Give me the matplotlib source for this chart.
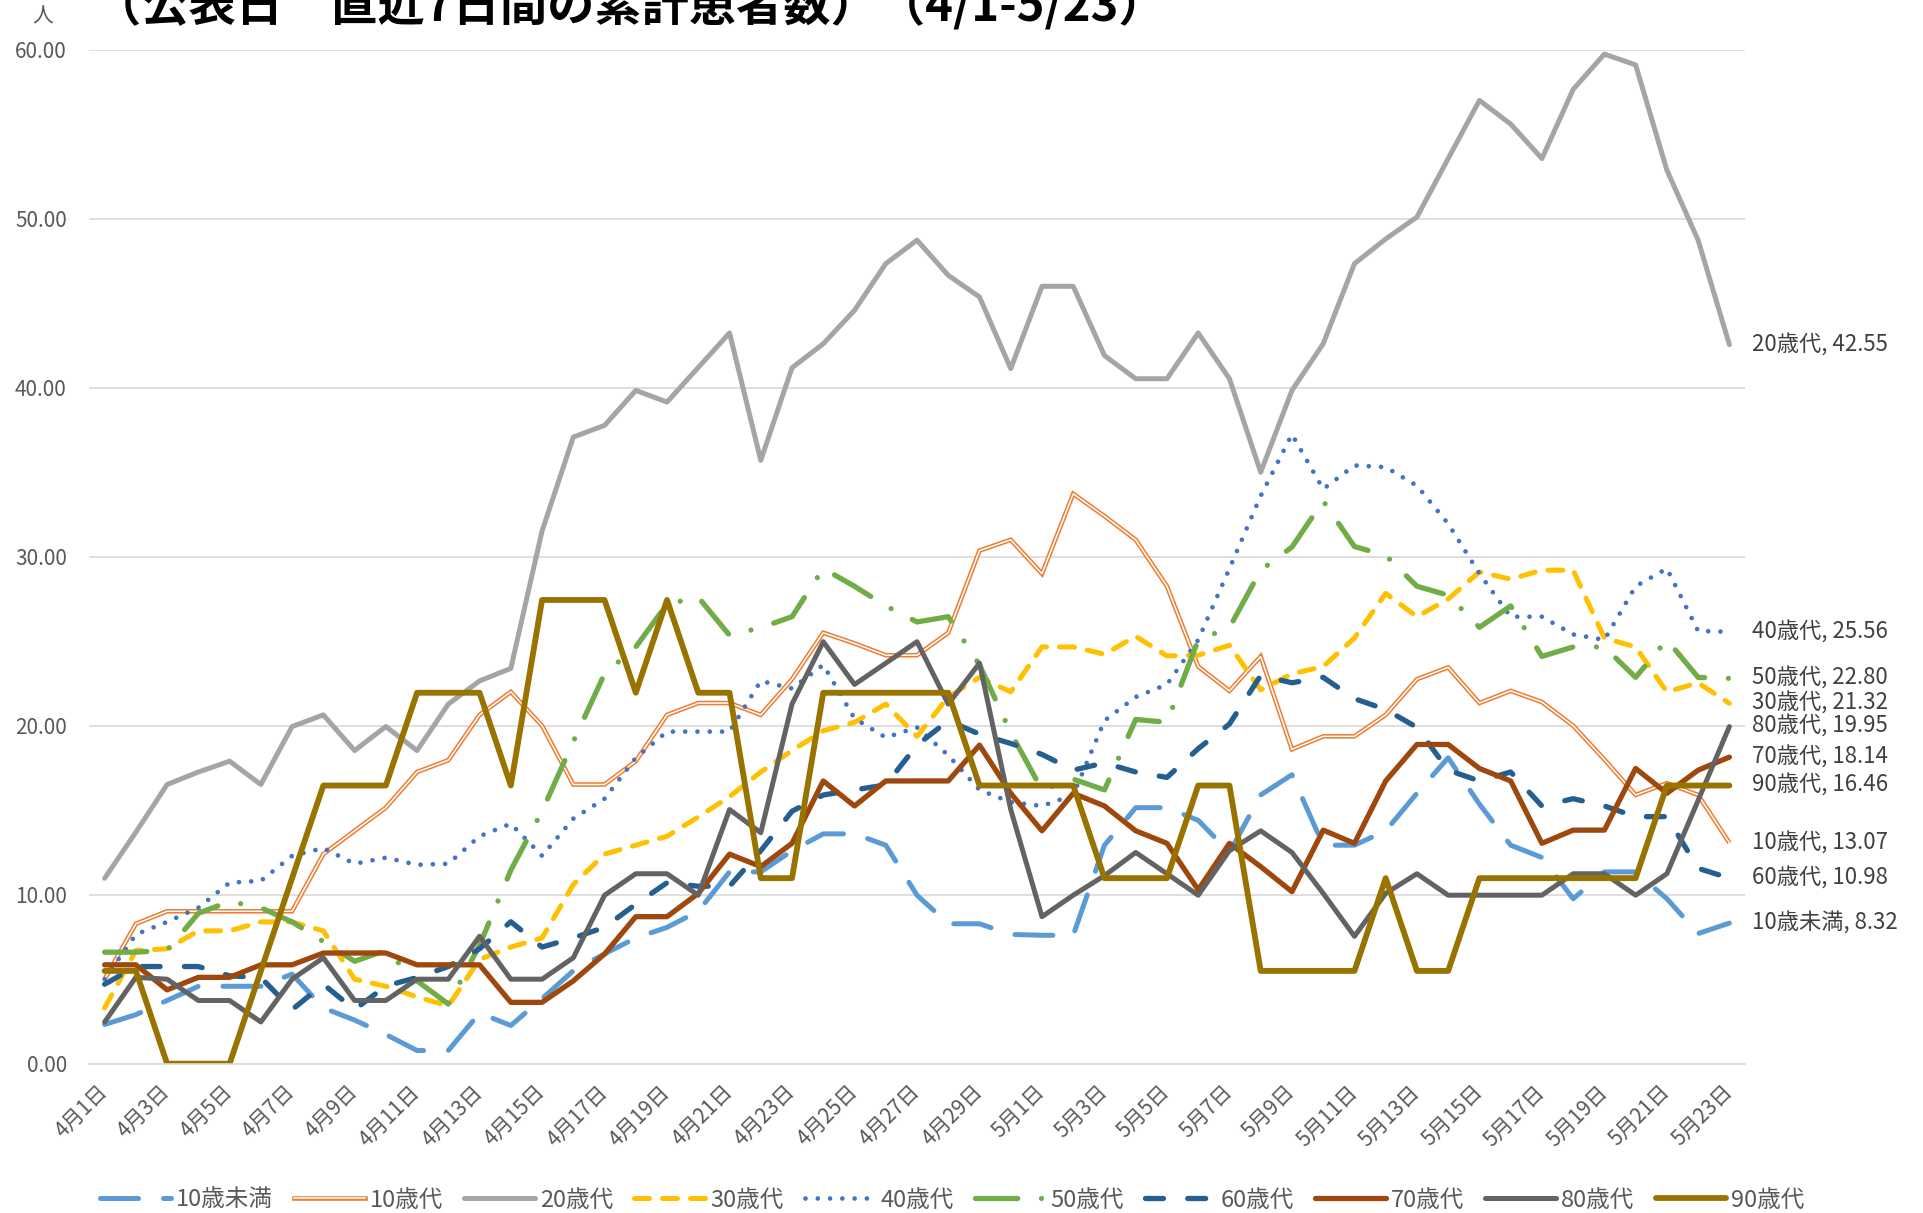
import matplotlib
matplotlib.use('Agg')
import matplotlib.pyplot as plt
from matplotlib.lines import Line2D
from matplotlib.ticker import FormatStrFormatter
import numpy as np

plt.rcParams['font.family'] = ['Noto Sans CJK JP', 'DejaVu Sans']

# ---------------- data ----------------
dates = [f"4月{d}日" for d in range(1, 31)] + [f"5月{d}日" for d in range(1, 24)]

names = ["10歳未満", "10歳代", "20歳代", "30歳代", "40歳代",
         "50歳代", "60歳代", "70歳代", "80歳代", "90歳代"]

v_u10 = [2.32, 2.9, 3.74, 4.58, 4.58, 4.58, 5.3, 3.3, 2.58, 1.73, 0.78, 0.78, 3.0, 2.26, 3.85,
         5.5, 6.5, 7.44, 8.07, 9.02, 11.35, 11.35, 12.6, 13.6, 13.6, 12.93, 9.97, 8.28, 8.28, 7.65,
         7.6, 7.6, 12.93, 15.15, 15.15, 14.4, 12.5, 15.9, 17.1, 12.93, 12.93, 13.78, 16.0, 18.1,
         15.36, 12.93, 12.2, 9.76, 11.35, 11.35, 9.76, 7.7, 8.32]
v_10s = [5.0, 8.28, 9.02, 9.02, 9.02, 9.02, 9.02, 12.4, 13.78, 15.15, 17.26, 17.96, 20.64, 22.0, 20.0,
         16.52, 16.52, 17.9, 20.64, 21.34, 21.34, 20.64, 22.75, 25.5, 24.87, 24.17, 24.17, 25.5, 30.36,
         31.0, 28.99, 33.72, 32.4, 31.0, 28.25, 23.5, 22.06, 24.1, 18.6, 19.37, 19.37, 20.64, 22.75,
         23.45, 21.34, 22.06, 21.4, 20.0, 18.0, 15.9, 16.6, 15.9, 13.07]
v_20s = [10.97, 13.7, 16.52, 17.26, 17.9, 16.52, 19.95, 20.64, 18.53, 19.95, 18.53, 21.28, 22.65, 23.39,
         31.52, 37.08, 37.77, 39.84, 39.15, 41.2, 43.24, 35.7, 41.18, 42.6, 44.58, 47.34, 48.73, 46.65,
         45.37, 41.13, 46.0, 46.0, 41.9, 40.53, 40.53, 43.24, 40.53, 35.0, 39.84, 42.6, 47.34, 48.8,
         50.1, 53.56, 57.0, 55.6, 53.56, 57.65, 59.74, 59.1, 52.87, 48.73, 42.55]
v_30s = [3.3, 6.7, 6.8, 7.86, 7.86, 8.39, 8.39, 7.86, 5.0, 4.58, 3.95, 3.42, 6.17, 6.9, 7.44, 10.6,
         12.4, 12.93, 13.46, 14.6, 15.8, 17.26, 18.53, 19.7, 20.2, 21.28, 19.37, 21.7, 22.86, 22.0,
         24.66, 24.66, 24.23, 25.29, 24.13, 24.17, 24.76, 22.12, 23.07, 23.5, 25.19, 27.83, 26.45,
         27.5, 29.1, 28.67, 29.2, 29.2, 25.19, 24.66, 22.0, 22.54, 21.32]
v_40s = [5.0, 7.65, 8.39, 9.23, 10.71, 10.82, 12.3, 12.76, 11.83, 12.19, 11.77, 11.83, 13.46, 14.2,
         12.3, 14.5, 15.68, 18.1, 19.65, 19.65, 19.65, 22.65, 22.2, 23.6, 20.43, 19.3, 19.9, 18.25,
         16.2, 15.47, 15.25, 15.9, 20.3, 21.7, 22.44, 25.08, 29.3, 33.6, 37.24, 34.0, 35.4, 35.3,
         34.2, 31.95, 29.0, 26.45, 26.45, 25.4, 25.08, 28.25, 29.3, 25.6, 25.56]
v_50s = [6.6, 6.6, 6.7, 8.9, 9.6, 9.23, 8.39, 7.23, 6.06, 6.7, 4.9, 3.53, 7.0, 11.45, 14.94, 19.06,
         23.07, 24.66, 27.2, 27.6, 25.35, 25.8, 26.45, 29.3, 28.25, 27.09, 26.14, 26.45, 23.6, 19.59,
         16.2, 16.84, 16.2, 20.37, 20.2, 25.08, 25.8, 29.2, 30.57, 33.3, 30.6, 30.08, 28.25, 27.72,
         25.82, 27.09, 24.1, 24.66, 24.66, 22.86, 25.08, 22.86, 22.80]
v_60s = [4.7, 5.75, 5.75, 5.75, 5.2, 5.1, 3.2, 4.7, 3.2, 4.6, 5.1, 5.75, 6.8, 8.4, 6.9, 7.44, 8.07,
         9.44, 10.71, 10.5, 10.5, 12.6, 14.94, 15.9, 16.2, 16.5, 18.85, 20.3, 19.5, 18.95, 18.3,
         17.37, 17.8, 17.26, 16.94, 18.64, 20.1, 22.97, 22.54, 22.86, 21.6, 20.96, 19.9, 17.37,
         16.73, 17.26, 15.25, 15.68, 15.25, 14.62, 14.62, 11.56, 10.98]
v_70s = [5.85, 5.85, 4.37, 5.11, 5.11, 5.85, 5.85, 6.55, 6.55, 6.55, 5.85, 5.85, 5.85, 3.63, 3.63,
         4.9, 6.49, 8.7, 8.7, 10.08, 12.4, 11.66, 13.04, 16.73, 15.25, 16.73, 16.73, 16.73, 18.85,
         16.0, 13.78, 16.0, 15.25, 13.78, 13.04, 10.29, 13.04, 11.66, 10.18, 13.82, 13.04, 16.73,
         18.89, 18.89, 17.47, 16.73, 13.04, 13.82, 13.82, 17.47, 16.0, 17.37, 18.14]
v_80s = [2.47, 5.11, 5.0, 3.74, 3.74, 2.47, 5.0, 6.27, 3.74, 3.74, 5.0, 5.0, 7.54, 5.0, 5.0, 6.27,
         9.97, 11.24, 11.24, 9.97, 15.04, 13.67, 21.28, 24.97, 22.44, 23.7, 24.97, 21.28, 23.7, 15.04,
         8.7, 9.97, 11.13, 12.5, 11.24, 9.97, 12.61, 13.78, 12.5, 10.08, 7.54, 10.08, 11.24, 9.97,
         9.97, 9.97, 9.97, 11.24, 11.24, 9.97, 11.24, 15.58, 19.95]
v_90s = [5.49, 5.49, 0, 0, 0, 5.49, 10.98, 16.46, 16.46, 16.46, 21.95, 21.95, 21.95, 16.46, 27.44,
         27.44, 27.44, 21.95, 27.44, 21.95, 21.95, 10.98, 10.98, 21.95, 21.95, 21.95, 21.95, 21.95,
         16.46, 16.46, 16.46, 16.46, 10.98, 10.98, 10.98, 16.46, 16.46, 5.49, 5.49, 5.49, 5.49,
         10.98, 5.49, 5.49, 10.98, 10.98, 10.98, 10.98, 10.98, 10.98, 16.46, 16.46, 16.46]

series = [v_u10, v_10s, v_20s, v_30s, v_40s, v_50s, v_60s, v_70s, v_80s, v_90s]

y_ticks = [0, 10, 20, 30, 40, 50, 60]

# ---------------- styles ----------------
styles = [
    dict(color='#5B9BD5', lw=3.6, dashes=(7.6, 5)),
    dict(color='#ED7D31', lw=3.3, double=True),
    dict(color='#A5A5A5', lw=3.6),
    dict(color='#FFC000', lw=3.6, dashes=(3.0, 2.6)),
    dict(color='#4472C4', lw=3.4, dashes=(0.001, 2.6)),
    dict(color='#70AD47', lw=3.8, dashes=(8, 4.5, 0.001, 4.5)),
    dict(color='#255E91', lw=3.8, dashes=(3.4, 4.6)),
    dict(color='#9E480E', lw=3.8),
    dict(color='#636363', lw=3.6),
    dict(color='#997300', lw=4.2),
]

W, H = 1924, 1213
fig = plt.figure(figsize=(W / 100, H / 100), dpi=100)
left, right, bottom, top = 89, 1745, 1063.7, 49.7
ax = fig.add_axes([left / W, 1 - bottom / H, (right - left) / W, (bottom - top) / H])

x = np.arange(len(dates))
handles = []
for name, vals, st in zip(names, series, styles):
    if st.get('double'):
        ax.plot(x, vals, color=st['color'], lw=st['lw'], solid_joinstyle='miter',
                solid_capstyle='butt')
        ax.plot(x, vals, color='white', lw=1.1, solid_joinstyle='miter',
                solid_capstyle='butt')
        h1 = Line2D([], [], color=st['color'], lw=st['lw'])
        h2 = Line2D([], [], color='white', lw=1.1)
        handles.append((h1, h2))
    else:
        kw = dict(color=st['color'], lw=st['lw'], solid_joinstyle='round',
                  solid_capstyle='round', dash_capstyle='round', dash_joinstyle='round')
        if 'dashes' in st:
            kw['dashes'] = st['dashes']
        ax.plot(x, vals, **kw)
        handles.append(Line2D([], [], **kw))
    ax.annotate(f"{name}, {vals[-1]:.2f}", xy=(x[-1], vals[-1]), xytext=(16, 0),
                textcoords='offset points', ha='left', va='center', fontsize=16,
                color='#404040', annotation_clip=False)

ax.set_xlim(-0.5, len(dates) - 0.5)
ax.set_ylim(0, 60)
ax.set_yticks(y_ticks)
ax.yaxis.set_major_formatter(FormatStrFormatter('%.2f'))
ax.set_xticks(x[::2])
ax.set_xticklabels(dates[::2], rotation=45, ha='right', va='center',
                   rotation_mode='anchor', fontsize=15, color='#595959')
ax.tick_params(axis='y', length=0, pad=16, labelsize=15, labelcolor='#595959')
ax.tick_params(axis='x', length=0, pad=18)
ax.yaxis.grid(True, color='#D9D9D9', lw=1.2)
ax.set_axisbelow(True)
for s in ['left', 'right', 'top']:
    ax.spines[s].set_visible(False)
ax.spines['bottom'].set_color('#D9D9D9')
ax.spines['bottom'].set_linewidth(1.2)

fig.text(43 / W, 1 - 17 / H, '人', ha='center', va='center', fontsize=15, color='#595959')
fig.text(94 / W, 1 - 22 / H, '（公表日　直近7日間の累計患者数）（4/1-5/23）',
         ha='left', va='baseline', fontsize=34, color='black', weight='bold')

leg = fig.legend(handles, names, loc='center', bbox_to_anchor=(0.495, 1 - 1200 / H), ncol=10,
                 frameon=False, fontsize=17, handlelength=3.0, handletextpad=0.2,
                 columnspacing=0.9)
for t in leg.get_texts():
    t.set_color('#595959')

fig.savefig('out.png', dpi=100)
